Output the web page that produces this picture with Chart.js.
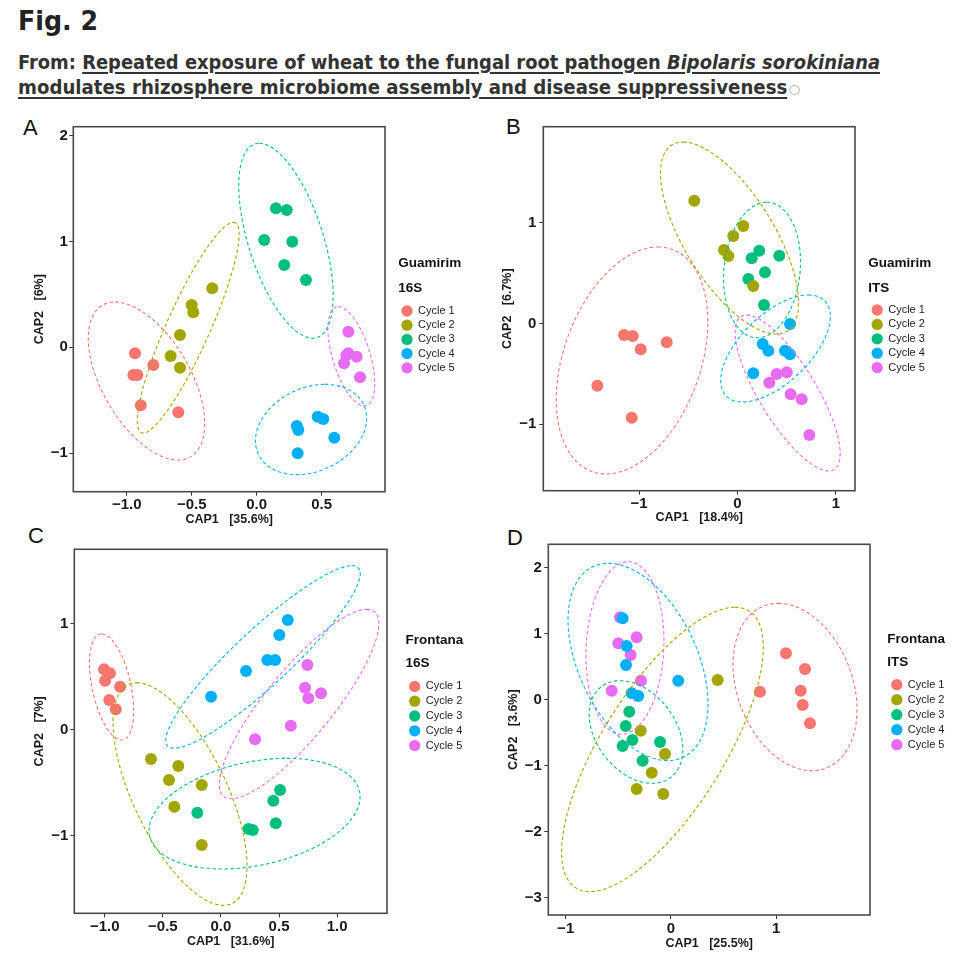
<!DOCTYPE html>
<html><head><meta charset="utf-8">
<script src="https://cdn.jsdelivr.net/npm/chart.js@4.4.1/dist/chart.umd.min.js"></script>
<style>
html,body{margin:0;padding:0;background:#fff;}
body{width:970px;height:969px;position:relative;overflow:hidden;font-family:"Liberation Sans",Arial,sans-serif;}
.t{position:absolute;white-space:nowrap;transform-origin:0 0;font-family:"Liberation Sans Narrow","DejaVu Sans Condensed","Liberation Sans",sans-serif;font-weight:bold;color:#333;line-height:1;}
.u{text-decoration:underline;text-underline-offset:3px;text-decoration-thickness:2px;}
.ic{display:inline-block;width:8px;height:8px;border:1px solid #bbb;border-radius:50%;margin-left:2px;vertical-align:-1px;}
.lt{position:absolute;font-family:"Liberation Sans",Arial,sans-serif;font-size:22px;color:#111;line-height:1;}
canvas{position:absolute;}
</style></head><body>
<div class="t" id="fig" style="left:18px;top:8px;font-size:26.5px;color:#222;">Fig. 2</div>
<div class="t" id="l1" style="left:18px;top:53px;font-size:19px;">From: <span class="u">Repeated exposure of wheat to the fungal root pathogen <i>Bipolaris sorokiniana</i></span></div>
<div class="t" id="l2" style="left:18px;top:78px;font-size:19px;"><span class="u">modulates rhizosphere microbiome assembly and disease suppressiveness</span><span class="ic"></span></div>
<div class="lt" style="left:23px;top:117px;">A</div>
<div class="lt" style="left:506px;top:116px;">B</div>
<div class="lt" style="left:28px;top:525px;">C</div>
<div class="lt" style="left:507px;top:527px;">D</div>
<canvas id="cA"></canvas><canvas id="cB"></canvas><canvas id="cC"></canvas><canvas id="cD"></canvas>
<script>
// ---------------- DATA ----------------
const cycles = ['Cycle 1','Cycle 2','Cycle 3','Cycle 4','Cycle 5'];
const colors = ['#F8766D','#A3A500','#00BF7D','#00B0F6','#E76BF3'];

// Panel A: Guamirim 16S
const A_c1 = [[-0.936,-0.057],[-0.795,-0.167],[-0.949,-0.262],[-0.918,-0.262],[-0.892,-0.548],[-0.603,-0.614]];
const A_c2 = [[-0.342,0.558],[-0.500,0.400],[-0.488,0.331],[-0.590,0.116],[-0.662,-0.082],[-0.590,-0.193]];
const A_c3 = [[0.148,1.314],[0.231,1.298],[0.058,1.014],[0.274,0.998],[0.212,0.778],[0.379,0.636]];
const A_c4 = [[0.469,-0.656],[0.512,-0.678],[0.308,-0.744],[0.320,-0.782],[0.597,-0.854],[0.315,-1.002]];
const A_c5 = [[0.705,0.147],[0.705,-0.057],[0.769,-0.089],[0.690,-0.075],[0.672,-0.151],[0.795,-0.284]];
// ellipses: [centerX, centerY, topPointX, topPointY, conjugatePointX, conjugatePointY]
const A_ell = [[-0.848,-0.319,-1.09,0.428,-0.471,-0.319],[-0.527,0.185,-0.18,1.181,-0.345,0.185],[0.225,1.007,0.02,1.928,0.525,1.007],[0.418,-0.777,0.525,-0.35,0.832,-0.777],[0.728,-0.085,0.628,0.384,0.878,-0.085]];
const A_xticks = [-1,-0.5,0,0.5];
const A_yticks = [-1,0,1,2];

// Panel B: Guamirim ITS
const B_c1 = [[-1.152,-0.114],[-1.064,-0.124],[-0.983,-0.256],[-0.719,-0.187],[-1.423,-0.618],[-1.074,-0.935]];
const B_c2 = [[-0.439,1.219],[0.059,0.968],[-0.043,0.869],[-0.137,0.730],[-0.093,0.671],[0.160,0.372]];
const B_c3 = [[0.221,0.723],[0.144,0.647],[0.424,0.673],[0.279,0.508],[0.110,0.442],[0.269,0.184]];
const B_c4 = [[0.533,-0.005],[0.256,-0.204],[0.313,-0.270],[0.482,-0.270],[0.533,-0.306],[0.160,-0.495]];
const B_c5 = [[0.398,-0.501],[0.500,-0.485],[0.323,-0.588],[0.540,-0.703],[0.652,-0.753],[0.729,-1.107]];
const B_ell = [[-1.071,-0.367,-0.807,0.760,-0.348,-0.367],[-0.081,0.849,-0.553,1.802,0.437,0.849],[0.249,0.531,0.296,1.204,0.637,0.531],[0.386,-0.248,0.719,0.283,0.832,-0.248],[0.509,-0.690,0.093,0.084,0.843,-0.690]];
const B_xticks = [-1,0,1];
const B_yticks = [-1,0,1];

// Panel C: Frontana 16S
const C_c1 = [[-1.006,0.570],[-0.955,0.532],[-0.997,0.463],[-0.868,0.406],[-0.961,0.280],[-0.905,0.192]];
const C_c2 = [[-0.602,-0.276],[-0.367,-0.342],[-0.447,-0.475],[-0.165,-0.522],[-0.401,-0.726],[-0.165,-1.088]];
const C_c3 = [[0.509,-0.569],[0.451,-0.670],[-0.203,-0.783],[0.472,-0.883],[0.236,-0.937],[0.274,-0.946]];
const C_c4 = [[0.575,1.035],[0.503,0.893],[0.399,0.658],[0.466,0.658],[0.216,0.554],[-0.085,0.311]];
const C_c5 = [[0.744,0.610],[0.724,0.396],[0.752,0.296],[0.861,0.343],[0.601,0.038],[0.293,-0.091]];
const C_ell = [[-0.941,0.403,-1.026,0.903,-0.771,0.403],[-0.352,-0.607,-0.725,0.443,0.088,-0.607],[0.289,-0.792,0.566,-0.270,1.154,-0.792],[0.362,0.686,1.126,1.547,0.704,0.686],[0.672,0.242,1.255,1.136,1.035,0.242]];
const C_xticks = [-1,-0.5,0,0.5,1];
const C_yticks = [-1,0,1];

// Panel D: Frontana ITS
const D_c1 = [[1.092,0.708],[1.273,0.470],[0.845,0.126],[1.232,0.141],[1.251,-0.076],[1.320,-0.353]];
const D_c2 = [[0.443,0.303],[-0.288,-0.465],[-0.057,-0.818],[-0.183,-1.101],[-0.326,-1.348],[-0.073,-1.424]];
const D_c3 = [[-0.396,-0.177],[-0.430,-0.394],[-0.366,-0.606],[-0.459,-0.697],[-0.104,-0.636],[-0.269,-0.920]];
const D_c4 = [[-0.459,1.238],[-0.421,0.818],[-0.427,0.530],[0.069,0.292],[-0.373,0.102],[-0.311,0.061]];
const D_c5 = [[-0.484,1.253],[-0.500,0.859],[-0.326,0.950],[-0.383,0.682],[-0.285,0.292],[-0.563,0.141]];
const D_ell = [[1.178,0.197,1.019,1.465,1.745,0.197],[-0.081,-0.750,0.608,1.405,0.584,-0.750],[-0.332,-0.485,-0.484,0.292,0.086,-0.485],[-0.313,0.576,-0.595,2.071,0.289,0.576],[-0.437,0.788,-0.406,2.095,-0.068,0.788]];
const D_xticks = [-1,0,1];
const D_yticks = [-3,-2,-1,0,1,2];

// ---------------- LAYOUT ----------------
const FAM = '"Liberation Sans", Arial, sans-serif';
Chart.defaults.font.family = FAM;

// let the legend box take a fixed width (so the two-line title is not clipped)
const legPlug = Chart.registry.getPlugin('legend');
if (legPlug && legPlug._element) {
  const proto = legPlug._element.prototype, origFit = proto.fit;
  proto.fit = function(){ origFit.call(this); const w = +this.chart.canvas.dataset.lw; if (w && !this.isHorizontal()) this.width = w; };
}

const panels = [
 {cv:'cA', series:[A_c1,A_c2,A_c3,A_c4,A_c5], ell:A_ell, xt:A_xticks, yt:A_yticks, xd:1, yd:0,
  xTitle:'CAP1   [35.6%]', yTitle:'CAP2   [6%]', leg:['Guamirim','16S'],
  xr:[-1.411,0.987], yr:[-1.365,2.085],
  L:73.3,T:126.7,R:385,B:491.7, LL:398.3, ty1:263.3, tsp:25, iy1:311, isp:14.2, ytx:40, xty:520, xtk:505, ypad:1.5},
 {cv:'cB', series:[B_c1,B_c2,B_c3,B_c4,B_c5], ell:B_ell, xt:B_xticks, yt:B_yticks, xd:0, yd:0,
  xTitle:'CAP1   [18.4%]', yTitle:'CAP2   [6.7%]', leg:['Guamirim','ITS'],
  xr:[-1.972,1.193], yr:[-1.660,1.954],
  L:543.3,T:126.7,R:855,B:490.7, LL:868.3, ty1:263.5, tsp:24.5, iy1:310, isp:14.4, ytx:508, xty:518, xtk:503, ypad:3},
 {cv:'cC', series:[C_c1,C_c2,C_c3,C_c4,C_c5], ell:C_ell, xt:C_xticks, yt:C_yticks, xd:1, yd:0,
  xTitle:'CAP1   [31.6%]', yTitle:'CAP2   [7%]', leg:['Frontana','16S'],
  xr:[-1.262,1.429], yr:[-1.732,1.702],
  L:74.3,T:549.3,R:387,B:913.3, LL:405.4, ty1:639.8, tsp:23.7, iy1:686.4, isp:14.8, ytx:40, xty:941.7, xtk:926.7, ypad:2},
 {cv:'cD', series:[D_c1,D_c2,D_c3,D_c4,D_c5], ell:D_ell, xt:D_xticks, yt:D_yticks, xd:0, yd:0,
  xTitle:'CAP1   [25.5%]', yTitle:'CAP2   [3.6%]', leg:['Frontana','ITS'],
  xr:[-1.165,1.890], yr:[-3.258,2.359],
  L:548.3,T:544.3,R:870,B:915, LL:887.3, ty1:639, tsp:23, iy1:684.7, isp:15, ytx:513.3, xty:943.3, xtk:929.3, ypad:2.5}
];

function fmt(v,d){ return (v<0?'\u2212':'') + Math.abs(v).toFixed(d); }
function ellipsePts(e){
  const [cx,cy,px,py,qx,qy]=e, ux=px-cx, uy=py-cy, vx=qx-cx, vy=qy-cy, pts=[];
  for(let i=0;i<=144;i++){ const t=i/144*2*Math.PI; pts.push({x:cx+ux*Math.cos(t)+vx*Math.sin(t), y:cy+uy*Math.cos(t)+vy*Math.sin(t)}); }
  return pts;
}
const boxPlugin = {id:'box', afterDatasetsDraw(chart){ const {ctx,chartArea:a}=chart; ctx.save(); ctx.strokeStyle='#4a4a4a'; ctx.lineWidth=1.6; ctx.strokeRect(a.left,a.top,a.right-a.left,a.bottom-a.top); ctx.restore(); }};

panels.forEach(p=>{
  const LW=78, PR=2;
  const cl=Math.floor(p.L-54), ct=Math.floor(p.T-14);
  const yw=p.L-cl, pt=p.T-ct;
  const cw=Math.ceil(p.LL+LW+PR-cl), ch=Math.ceil(p.B+46-ct);
  const xh=ch-(p.B-ct);
  const pr=cw-(p.LL-cl)-LW;
  const lpad=p.isp-11;
  const tTop=p.ty1-p.T-6.75;
  const tBot=p.iy1-p.T-p.tsp-tTop-lpad-5.5;
  const cv=document.getElementById(p.cv);
  cv.width=cw; cv.height=ch; cv.style.left=cl+'px'; cv.style.top=ct+'px'; cv.style.width=cw+'px'; cv.style.height=ch+'px';
  cv.dataset.lw=LW;
  const datasets=[];
  p.series.forEach((s,i)=>datasets.push({type:'scatter',label:cycles[i],data:s.map(([x,y])=>({x,y})),backgroundColor:colors[i],borderWidth:0,pointRadius:6,pointHoverRadius:6,pointStyle:'circle',order:2,xAxisID:'x',yAxisID:'y'}));
  p.ell.forEach((e,i)=>datasets.push({type:'line',label:'ellipse',data:ellipsePts(e),borderColor:colors[i],borderWidth:1.1,borderDash:[3.5,2.5],pointRadius:0,fill:false,tension:0,order:1,xAxisID:'x',yAxisID:'y'}));
  const tickFont={size:15,weight:'bold',family:FAM};
  const titleFont={size:12.5,weight:'bold',family:FAM};
  new Chart(cv,{
    type:'scatter',
    data:{datasets},
    options:{
      responsive:false, animation:false, devicePixelRatio:1, events:[],
      layout:{padding:{left:0,top:pt,right:pr,bottom:0}},
      plugins:{
        tooltip:{enabled:false},
        legend:{display:true,position:'right',align:'start',
          title:{display:true,text:p.leg,position:'start',color:'#111',font:{size:13.5,weight:'bold',family:FAM,lineHeight:p.tsp/13.5},padding:{top:tTop,bottom:tBot}},
          labels:{filter:it=>it.text.startsWith('Cycle'),usePointStyle:true,boxWidth:11,boxHeight:8,padding:lpad,color:'#222',font:{size:11,family:FAM}}
        }
      },
      scales:{
        x:{type:'linear',position:'bottom',min:p.xr[0],max:p.xr[1],
          afterFit:s=>{s.height=xh;},
          afterBuildTicks:s=>{s.ticks=p.xt.map(v=>({value:v}));},
          ticks:{callback:v=>fmt(v,p.xd),font:tickFont,color:'#1a1a1a',padding:Math.max(0,p.xtk-p.B-4-9),maxRotation:0,autoSkip:false},
          grid:{display:true,drawOnChartArea:false,drawTicks:true,tickLength:4,color:'#333',lineWidth:1},
          border:{display:false},
          title:{display:true,text:p.xTitle,font:titleFont,color:'#1a1a1a',padding:{top:0,bottom:(ct+ch)-p.xty-7.5}}
        },
        y:{type:'linear',position:'left',min:p.yr[0],max:p.yr[1],
          afterFit:s=>{s.width=yw;},
          afterBuildTicks:s=>{s.ticks=p.yt.map(v=>({value:v}));},
          ticks:{callback:v=>fmt(v,p.yd),font:tickFont,color:'#1a1a1a',padding:p.ypad,autoSkip:false},
          grid:{display:true,drawOnChartArea:false,drawTicks:true,tickLength:4,color:'#333',lineWidth:1},
          border:{display:false},
          title:{display:true,text:p.yTitle,font:titleFont,color:'#1a1a1a',padding:{top:p.ytx-cl-7.5,bottom:0}}
        },
        y2:{type:'linear',position:'right',display:true,
          afterFit:s=>{s.width=p.LL-p.R;},
          grid:{display:false},ticks:{display:false},border:{display:false}}
      }
    },
    plugins:[boxPlugin]
  });
});

// fit title lines to reference widths
function fitW(id,w){ const el=document.getElementById(id); const cw=el.getBoundingClientRect().width; el.style.transform='scaleX('+(w/cw)+')'; }
fitW('fig',80); fitW('l1',862); fitW('l2',782);
</script>
</body></html>
